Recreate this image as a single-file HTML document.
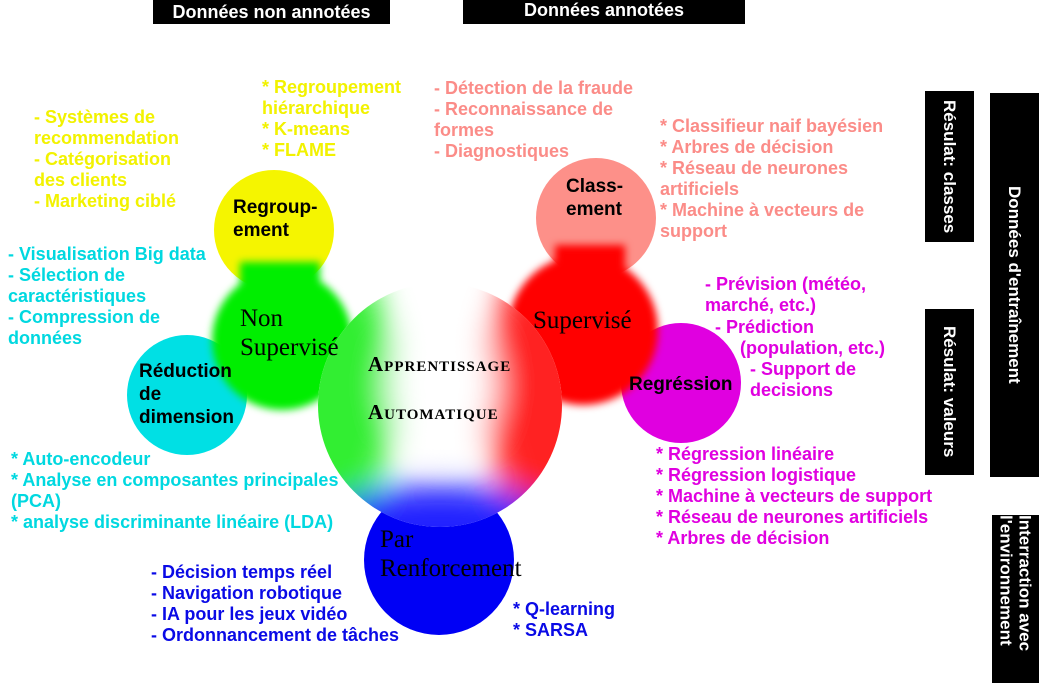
<!DOCTYPE html>
<html><head><meta charset="utf-8"><style>
body{margin:0;width:1040px;height:696px;background:#fff;position:relative;overflow:hidden;font-family:"Liberation Sans",sans-serif;}
.t{position:absolute;font-weight:bold;font-size:18px;line-height:21px;white-space:nowrap;}
.y{color:#f2f200}.c{color:#00d8e0}.p{color:#fb8c88}.m{color:#e000e0}.b{color:#0a0ae6}
.hdr{position:absolute;background:#000;color:#fff;font-weight:bold;font-size:18px;text-align:center;line-height:24px;top:0;height:24px}
.v{position:absolute;background:#000;color:#fff;font-weight:bold;font-size:17px;writing-mode:vertical-rl;display:flex;align-items:center;justify-content:center;line-height:19px}
.lbl{position:absolute;font-weight:bold;font-size:19px;line-height:23px;color:#000}
.serif{position:absolute;font-family:"Liberation Serif",serif;font-size:25px;line-height:29px;color:#000}
.sc{position:absolute;font-family:"Liberation Serif",serif;font-variant:small-caps;font-weight:bold;font-size:21px;letter-spacing:1px;color:#000}
</style></head><body>
<svg width="1040" height="696" style="position:absolute;left:0;top:0">
<defs>
<filter id="bl" x="-30%" y="-30%" width="160%" height="160%"><feGaussianBlur stdDeviation="16"/></filter>
<filter id="bs" x="-30%" y="-30%" width="160%" height="160%"><feGaussianBlur stdDeviation="4"/></filter>
<clipPath id="cc"><circle cx="440" cy="405" r="122"/></clipPath>
</defs>
<circle cx="274" cy="230" r="60" fill="#f5f500"/>
<circle cx="596" cy="218" r="60" fill="#fd9089"/>
<circle cx="187" cy="395" r="60" fill="#00e0e4"/>
<circle cx="681" cy="383" r="60" fill="#e000e0"/>
<circle cx="439" cy="560" r="75" fill="#0000f5"/>
<g filter="url(#bs)">
<circle cx="282" cy="340" r="70" fill="#00ee00"/>
<rect x="240" y="262" width="80" height="30" fill="#00ee00"/>
<circle cx="583" cy="330" r="75" fill="#ff0000"/>
<rect x="555" y="245" width="70" height="30" fill="#ff0000"/>
</g>
<g clip-path="url(#cc)">
<rect x="310" y="275" width="260" height="260" fill="#fff"/>
<g filter="url(#bl)">
<ellipse cx="335" cy="390" rx="60" ry="130" fill="#33ee33"/>
<ellipse cx="545" cy="390" rx="60" ry="130" fill="#ff2222"/>
<ellipse cx="440" cy="545" rx="140" ry="60" fill="#2222ff"/>
<ellipse cx="442" cy="385" rx="55" ry="70" fill="#fff"/>
</g>
</g>
</svg>
<div class="hdr" style="left:153px;width:237px">Données non annotées</div>
<div class="hdr" style="left:463px;width:282px;line-height:20px">Données annotées</div>
<div class="v" style="left:925px;top:91px;width:49px;height:151px">Résulat: classes</div>
<div class="v" style="left:925px;top:309px;width:49px;height:166px">Résulat: valeurs</div>
<div class="v" style="left:990px;top:93px;width:49px;height:384px">Données d'entraînement</div>
<div class="v" style="left:992px;top:515px;width:47px;height:168px">Interraction avec l'environnement</div>

<div class="t y" style="left:34px;top:107px">- Systèmes de<br>recommendation<br>- Catégorisation<br>des clients<br>- Marketing ciblé</div>
<div class="t y" style="left:262px;top:77px">* Regroupement<br>hiérarchique<br>* K-means<br>* FLAME</div>
<div class="t p" style="left:434px;top:78px">- Détection de la fraude<br>- Reconnaissance de<br>formes<br>- Diagnostiques</div>
<div class="t p" style="left:660px;top:116px">* Classifieur naif bayésien<br>* Arbres de décision<br>* Réseau de neurones<br>artificiels<br>* Machine à vecteurs de<br>support</div>
<div class="t c" style="left:8px;top:244px">- Visualisation Big data<br>- Sélection de<br>caractéristiques<br>- Compression de<br>données</div>
<div class="t c" style="left:11px;top:449px">* Auto-encodeur<br>* Analyse en composantes principales<br>(PCA)<br>* analyse discriminante linéaire (LDA)</div>
<div class="t m" style="left:705px;top:274px">- Prévision (météo,<br>marché, etc.)</div>
<div class="t m" style="left:715px;top:317px">- Prédiction</div>
<div class="t m" style="left:740px;top:338px">(population, etc.)</div>
<div class="t m" style="left:750px;top:359px">- Support de<br>decisions</div>
<div class="t m" style="left:656px;top:444px">* Régression linéaire<br>* Régression logistique<br>* Machine à vecteurs de support<br>* Réseau de neurones artificiels<br>* Arbres de décision</div>
<div class="t b" style="left:151px;top:562px">- Décision temps réel<br>- Navigation robotique<br>- IA pour les jeux vidéo<br>- Ordonnancement de tâches</div>
<div class="t b" style="left:513px;top:599px">* Q-learning<br>* SARSA</div>

<div class="lbl" style="left:233px;top:196px">Regroup-<br>ement</div>
<div class="lbl" style="left:566px;top:175px">Class-<br>ement</div>
<div class="lbl" style="left:139px;top:360px">Réduction<br>de<br>dimension</div>
<div class="lbl" style="left:629px;top:373px">Regréssion</div>
<div class="serif" style="left:240px;top:304px">Non<br>Supervisé</div>
<div class="serif" style="left:533px;top:306px">Supervisé</div>
<div class="serif" style="left:380px;top:525px">Par<br>Renforcement</div>
<div class="sc" style="left:368px;top:352px">Apprentissage</div>
<div class="sc" style="left:368px;top:400px">Automatique</div>
</body></html>
